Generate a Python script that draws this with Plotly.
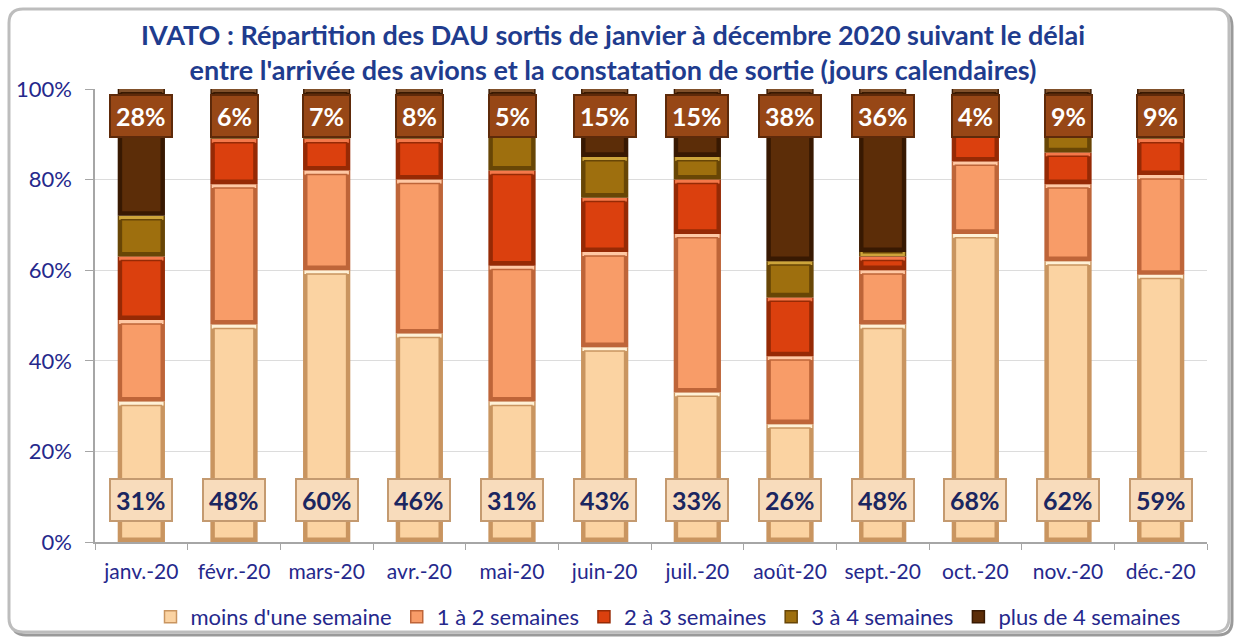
import plotly.graph_objects as go

# Monthly categories and the five delay classes (percent of DAU per month)
months = ["janv.-20", "févr.-20", "mars-20", "avr.-20", "mai-20", "juin-20",
          "juil.-20", "août-20", "sept.-20", "oct.-20", "nov.-20", "déc.-20"]

moins_une_semaine = [31, 48, 60, 46, 31, 43, 33, 26, 48, 68, 62, 59]
un_a_deux_semaines = [18, 31, 22, 34, 30, 21, 35, 15, 12, 16, 17, 22]
deux_a_trois_semaines = [14, 10, 7, 9, 21, 12, 12, 13, 3, 7, 7, 8]
trois_a_quatre_semaines = [9, 5, 4, 3, 13, 9, 5, 8, 1, 5, 5, 2]
plus_de_quatre_semaines = [28, 6, 7, 8, 5, 15, 15, 38, 36, 4, 9, 9]

series_names = ["moins d'une semaine", "1 à 2 semaines", "2 à 3 semaines",
                "3 à 4 semaines", "plus de 4 semaines"]
series_values = [moins_une_semaine, un_a_deux_semaines, deux_a_trois_semaines,
                 trois_a_quatre_semaines, plus_de_quatre_semaines]

y_ticks = [0, 20, 40, 60, 80, 100]
y_tick_labels = ["0%", "20%", "40%", "60%", "80%", "100%"]

face_colors = ["#FBD3A2", "#F89C68", "#DB400E", "#9E6F0E", "#5C2D08"]
edge_colors = ["#C99560", "#BE6539", "#962A05", "#684606", "#381902"]
light_colors = ["#FFF1D6", "#FFC8A4", "#F4784A", "#CDA43A", "#80502A"]

NAVY = "#25288C"
TITLE_BLUE = "#1F3C8E"
FONT = "Lato"

fig = go.Figure()

BAR_W = 0.51
INNER_W = 0.43
BEVEL = 0.85  # bevel thickness in axis units (%)

bottoms = [0] * len(months)
for name, vals, face, edge, light in zip(series_names, series_values,
                                          face_colors, edge_colors, light_colors):
    tops = [b + v for b, v in zip(bottoms, vals)]
    # dark rim of each bevelled block
    fig.add_trace(go.Bar(x=months, y=vals, base=bottoms, width=BAR_W,
                         marker=dict(color=edge, line=dict(width=0)),
                         showlegend=False, hoverinfo="skip"))
    # lit upper edge
    hl_h = [min(BEVEL, v) for v in vals]
    fig.add_trace(go.Bar(x=months, y=hl_h, base=[t - h for t, h in zip(tops, hl_h)],
                         width=BAR_W - 0.03,
                         marker=dict(color=light, line=dict(width=0)),
                         showlegend=False, hoverinfo="skip"))
    # flat face of the block
    inner_h = [max(v - 2 * BEVEL, 0) for v in vals]
    fig.add_trace(go.Bar(x=months, y=inner_h, base=[b + BEVEL for b in bottoms],
                         width=INNER_W, name=name,
                         marker=dict(color=face, line=dict(color=edge, width=1.5)),
                         hovertemplate="%{x}<br>" + name + " : %{customdata}%<extra></extra>",
                         customdata=vals))
    bottoms = tops

# plot area geometry in pixels
W, H = 1235, 639
L, R, T, B = 95, 28, 89, 97
pw, ph = W - L - R, H - T - B


def px(x):
    return (x - L) / pw


def py(y):
    return (H - B - y) / ph


annotations = [dict(
    text="<b>IVATO : Répartition des DAU sortis de janvier à décembre 2020 suivant le délai"
         "<br>entre l'arrivée des avions et la constatation de sortie (jours calendaires)</b>",
    xref="paper", yref="paper", x=px(613), y=py(52), xanchor="center", yanchor="middle",
    showarrow=False, font=dict(family=FONT, size=27, color=TITLE_BLUE))]

# value boxes for the shortest delay, near the base of each bar
for m, v in zip(months, moins_une_semaine):
    annotations.append(dict(
        x=m, y=0, xref="x", yref="y", yanchor="bottom", yshift=20,
        text=f"<b>{v}%</b>", showarrow=False,
        font=dict(family=FONT, size=25, color="#1B2660"),
        bgcolor="#F8DCBC", bordercolor="#C49A70", borderwidth=2, borderpad=5))
# value boxes for the longest delay, at the top of each bar
for m, v in zip(months, plus_de_quatre_semaines):
    annotations.append(dict(
        x=m, y=100, xref="x", yref="y", yanchor="top", yshift=-5,
        text=f"<b>{v}%</b>", showarrow=False,
        font=dict(family=FONT, size=25, color="white"),
        bgcolor="#974716", bordercolor="#5E2A0A", borderwidth=2, borderpad=5))


def rounded_rect(x0, y0, x1, y1, r):
    rx, ry = r / pw, r / ph
    X0, X1 = px(x0), px(x1)
    Y0, Y1 = py(y0), py(y1)  # Y0 is the top
    return (f"M {X0 + rx},{Y0} L {X1 - rx},{Y0} Q {X1},{Y0} {X1},{Y0 - ry} "
            f"L {X1},{Y1 + ry} Q {X1},{Y1} {X1 - rx},{Y1} "
            f"L {X0 + rx},{Y1} Q {X0},{Y1} {X0},{Y1 + ry} "
            f"L {X0},{Y0 - ry} Q {X0},{Y0} {X0 + rx},{Y0} Z")


shapes = [
    dict(type="path", xref="paper", yref="paper", layer="below",
         path=rounded_rect(12, 12, 1232, 635, 14),
         line=dict(color="#9A9A9A", width=3), fillcolor="rgba(0,0,0,0)"),
    dict(type="path", xref="paper", yref="paper", layer="below",
         path=rounded_rect(9, 9, 1229, 632, 14),
         line=dict(color="#BDBDBD", width=3), fillcolor="white"),
]

fig.update_layout(
    width=W, height=H,
    margin=dict(l=L, r=R, t=T, b=B, autoexpand=False),
    paper_bgcolor="white", plot_bgcolor="white",
    barmode="overlay",
    font=dict(family=FONT, color=NAVY),
    xaxis=dict(range=[-0.5, 11.5], showline=True, linecolor="#A6A6A6", linewidth=1.5,
               ticks="outside", tickson="boundaries", ticklen=6, tickcolor="#A6A6A6",
               ticklabelstandoff=10,
               tickfont=dict(family=FONT, size=21, color=NAVY), showgrid=False),
    yaxis=dict(range=[0, 100], tickvals=y_ticks, ticktext=y_tick_labels,
               showline=True, linecolor="#A6A6A6", linewidth=1.5,
               ticks="outside", ticklen=8, tickcolor="#A6A6A6",
               ticklabelstandoff=9,
               gridcolor="#DCDCDC", gridwidth=1, zeroline=False,
               tickfont=dict(family=FONT, size=22, color=NAVY)),
    legend=dict(orientation="h", x=px(668), xanchor="center", y=py(617), yanchor="middle",
                font=dict(family=FONT, size=22, color=NAVY),
                itemwidth=30, tracegroupgap=0, bgcolor="rgba(0,0,0,0)"),
    annotations=annotations,
    shapes=shapes,
)

fig.write_html("out.html")
